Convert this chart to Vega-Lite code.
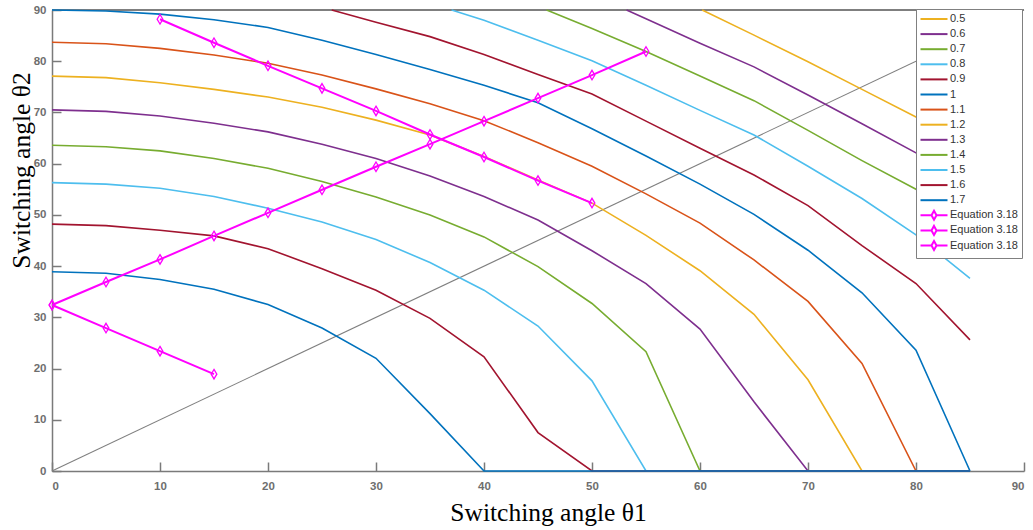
{
  "$schema": "https://vega.github.io/schema/vega-lite/v6.json",
  "width": 972,
  "height": 461,
  "autosize": {"type": "none"},
  "padding": {"left": 52, "top": 10, "right": 9, "bottom": 59},
  "background": "white",
  "config": {"view": {"stroke": null}, "font": "Liberation Sans"},
  "datasets": {
    "diag": [{"t1": 0, "t2": 0}, {"t1": 90, "t2": 90}],
    "curves": [
      {"s":"0.5","t1":60.2,"t2":90},{"s":"0.5","t1":65,"t2":85.1},{"s":"0.5","t1":70,"t2":79.9},{"s":"0.5","t1":75,"t2":74.5},{"s":"0.5","t1":80,"t2":69.1},{"s":"0.5","t1":85,"t2":63.5},
      {"s":"0.6","t1":53.2,"t2":90},{"s":"0.6","t1":55,"t2":88.3},{"s":"0.6","t1":60,"t2":83.5},{"s":"0.6","t1":65,"t2":78.9},{"s":"0.6","t1":70,"t2":73.4},{"s":"0.6","t1":75,"t2":67.8},{"s":"0.6","t1":80,"t2":62.1},{"s":"0.6","t1":85,"t2":56.0},
      {"s":"0.7","t1":45.8,"t2":90},{"s":"0.7","t1":50,"t2":86.4},{"s":"0.7","t1":55,"t2":81.9},{"s":"0.7","t1":60,"t2":77.1},{"s":"0.7","t1":65,"t2":72.3},{"s":"0.7","t1":70,"t2":66.5},{"s":"0.7","t1":75,"t2":60.6},{"s":"0.7","t1":80,"t2":55.0},{"s":"0.7","t1":85,"t2":48.5},
      {"s":"0.8","t1":37,"t2":90},{"s":"0.8","t1":40,"t2":88.0},{"s":"0.8","t1":45,"t2":84.1},{"s":"0.8","t1":50,"t2":80.1},{"s":"0.8","t1":55,"t2":75.3},{"s":"0.8","t1":60,"t2":70.4},{"s":"0.8","t1":65,"t2":65.6},{"s":"0.8","t1":70,"t2":59.5},{"s":"0.8","t1":75,"t2":53.2},{"s":"0.8","t1":80,"t2":46.1},{"s":"0.8","t1":85,"t2":37.6},
      {"s":"0.9","t1":25.9,"t2":90},{"s":"0.9","t1":30,"t2":87.6},{"s":"0.9","t1":35,"t2":84.8},{"s":"0.9","t1":40,"t2":81.3},{"s":"0.9","t1":45,"t2":77.4},{"s":"0.9","t1":50,"t2":73.6},{"s":"0.9","t1":55,"t2":68.3},{"s":"0.9","t1":60,"t2":63.0},{"s":"0.9","t1":65,"t2":57.8},{"s":"0.9","t1":70,"t2":51.8},{"s":"0.9","t1":75,"t2":44.0},{"s":"0.9","t1":80,"t2":36.6},{"s":"0.9","t1":85,"t2":25.6},
      {"s":"1","t1":0,"t2":90.0},{"s":"1","t1":5,"t2":89.8},{"s":"1","t1":10,"t2":89.2},{"s":"1","t1":15,"t2":88.1},{"s":"1","t1":20,"t2":86.6},{"s":"1","t1":25,"t2":84.1},{"s":"1","t1":30,"t2":81.3},{"s":"1","t1":35,"t2":78.4},{"s":"1","t1":40,"t2":75.3},{"s":"1","t1":45,"t2":71.9},{"s":"1","t1":50,"t2":66.8},{"s":"1","t1":55,"t2":61.5},{"s":"1","t1":60,"t2":56.0},{"s":"1","t1":65,"t2":50.1},{"s":"1","t1":70,"t2":43.1},{"s":"1","t1":75,"t2":34.8},{"s":"1","t1":80,"t2":23.6},{"s":"1","t1":85,"t2":0},
      {"s":"1.1","t1":0,"t2":83.7},{"s":"1.1","t1":5,"t2":83.4},{"s":"1.1","t1":10,"t2":82.5},{"s":"1.1","t1":15,"t2":81.2},{"s":"1.1","t1":20,"t2":79.6},{"s":"1.1","t1":25,"t2":77.3},{"s":"1.1","t1":30,"t2":74.6},{"s":"1.1","t1":35,"t2":71.7},{"s":"1.1","t1":40,"t2":68.4},{"s":"1.1","t1":45,"t2":64.1},{"s":"1.1","t1":50,"t2":59.5},{"s":"1.1","t1":55,"t2":54.1},{"s":"1.1","t1":60,"t2":48.4},{"s":"1.1","t1":65,"t2":41.2},{"s":"1.1","t1":70,"t2":33.1},{"s":"1.1","t1":75,"t2":21.0},{"s":"1.1","t1":80,"t2":0},{"s":"1.1","t1":85,"t2":0},
      {"s":"1.2","t1":0,"t2":77.1},{"s":"1.2","t1":5,"t2":76.8},{"s":"1.2","t1":10,"t2":75.8},{"s":"1.2","t1":15,"t2":74.5},{"s":"1.2","t1":20,"t2":73.0},{"s":"1.2","t1":25,"t2":71.0},{"s":"1.2","t1":30,"t2":68.5},{"s":"1.2","t1":35,"t2":65.6},{"s":"1.2","t1":40,"t2":61.4},{"s":"1.2","t1":45,"t2":56.8},{"s":"1.2","t1":50,"t2":52.3},{"s":"1.2","t1":55,"t2":46.0},{"s":"1.2","t1":60,"t2":39.1},{"s":"1.2","t1":65,"t2":30.6},{"s":"1.2","t1":70,"t2":17.8},{"s":"1.2","t1":75,"t2":0},{"s":"1.2","t1":80,"t2":0},{"s":"1.2","t1":85,"t2":0},
      {"s":"1.3","t1":0,"t2":70.5},{"s":"1.3","t1":5,"t2":70.2},{"s":"1.3","t1":10,"t2":69.3},{"s":"1.3","t1":15,"t2":67.9},{"s":"1.3","t1":20,"t2":66.2},{"s":"1.3","t1":25,"t2":63.8},{"s":"1.3","t1":30,"t2":61.0},{"s":"1.3","t1":35,"t2":57.6},{"s":"1.3","t1":40,"t2":53.6},{"s":"1.3","t1":45,"t2":49.0},{"s":"1.3","t1":50,"t2":43.0},{"s":"1.3","t1":55,"t2":36.6},{"s":"1.3","t1":60,"t2":27.7},{"s":"1.3","t1":65,"t2":13.5},{"s":"1.3","t1":70,"t2":0},{"s":"1.3","t1":75,"t2":0},{"s":"1.3","t1":80,"t2":0},{"s":"1.3","t1":85,"t2":0},
      {"s":"1.4","t1":0,"t2":63.6},{"s":"1.4","t1":5,"t2":63.3},{"s":"1.4","t1":10,"t2":62.5},{"s":"1.4","t1":15,"t2":61.0},{"s":"1.4","t1":20,"t2":59.1},{"s":"1.4","t1":25,"t2":56.5},{"s":"1.4","t1":30,"t2":53.5},{"s":"1.4","t1":35,"t2":50.0},{"s":"1.4","t1":40,"t2":45.7},{"s":"1.4","t1":45,"t2":39.9},{"s":"1.4","t1":50,"t2":32.7},{"s":"1.4","t1":55,"t2":23.3},{"s":"1.4","t1":60,"t2":0},{"s":"1.4","t1":65,"t2":0},{"s":"1.4","t1":70,"t2":0},{"s":"1.4","t1":75,"t2":0},{"s":"1.4","t1":80,"t2":0},{"s":"1.4","t1":85,"t2":0},
      {"s":"1.5","t1":0,"t2":56.3},{"s":"1.5","t1":5,"t2":56.0},{"s":"1.5","t1":10,"t2":55.2},{"s":"1.5","t1":15,"t2":53.6},{"s":"1.5","t1":20,"t2":51.3},{"s":"1.5","t1":25,"t2":48.6},{"s":"1.5","t1":30,"t2":45.2},{"s":"1.5","t1":35,"t2":40.7},{"s":"1.5","t1":40,"t2":35.3},{"s":"1.5","t1":45,"t2":28.3},{"s":"1.5","t1":50,"t2":17.6},{"s":"1.5","t1":55,"t2":0},{"s":"1.5","t1":60,"t2":0},{"s":"1.5","t1":65,"t2":0},{"s":"1.5","t1":70,"t2":0},{"s":"1.5","t1":75,"t2":0},{"s":"1.5","t1":80,"t2":0},{"s":"1.5","t1":85,"t2":0},
      {"s":"1.6","t1":0,"t2":48.2},{"s":"1.6","t1":5,"t2":47.9},{"s":"1.6","t1":10,"t2":47.0},{"s":"1.6","t1":15,"t2":45.9},{"s":"1.6","t1":20,"t2":43.4},{"s":"1.6","t1":25,"t2":39.5},{"s":"1.6","t1":30,"t2":35.3},{"s":"1.6","t1":35,"t2":29.8},{"s":"1.6","t1":40,"t2":22.3},{"s":"1.6","t1":45,"t2":7.5},{"s":"1.6","t1":50,"t2":0},{"s":"1.6","t1":55,"t2":0},{"s":"1.6","t1":60,"t2":0},{"s":"1.6","t1":65,"t2":0},{"s":"1.6","t1":70,"t2":0},{"s":"1.6","t1":75,"t2":0},{"s":"1.6","t1":80,"t2":0},{"s":"1.6","t1":85,"t2":0},
      {"s":"1.7","t1":0,"t2":38.9},{"s":"1.7","t1":5,"t2":38.6},{"s":"1.7","t1":10,"t2":37.4},{"s":"1.7","t1":15,"t2":35.5},{"s":"1.7","t1":20,"t2":32.5},{"s":"1.7","t1":25,"t2":27.9},{"s":"1.7","t1":30,"t2":22.0},{"s":"1.7","t1":35,"t2":11.2},{"s":"1.7","t1":40,"t2":0},{"s":"1.7","t1":45,"t2":0},{"s":"1.7","t1":50,"t2":0},{"s":"1.7","t1":55,"t2":0},{"s":"1.7","t1":60,"t2":0},{"s":"1.7","t1":65,"t2":0},{"s":"1.7","t1":70,"t2":0},{"s":"1.7","t1":75,"t2":0},{"s":"1.7","t1":80,"t2":0},{"s":"1.7","t1":85,"t2":0}
    ],
    "eq": [
      {"s":"Eq1","t1":0,"t2":32.4},{"s":"Eq1","t1":5,"t2":36.9},{"s":"Eq1","t1":10,"t2":41.3},{"s":"Eq1","t1":15,"t2":45.9},{"s":"Eq1","t1":20,"t2":50.4},{"s":"Eq1","t1":25,"t2":54.9},{"s":"Eq1","t1":30,"t2":59.4},{"s":"Eq1","t1":35,"t2":63.8},{"s":"Eq1","t1":40,"t2":68.3},{"s":"Eq1","t1":45,"t2":72.8},{"s":"Eq1","t1":50,"t2":77.3},{"s":"Eq1","t1":55,"t2":81.9},
      {"s":"Eq2","t1":0,"t2":32.4},{"s":"Eq2","t1":5,"t2":27.9},{"s":"Eq2","t1":10,"t2":23.4},{"s":"Eq2","t1":15,"t2":18.9},
      {"s":"Eq3","t1":10,"t2":88.2},{"s":"Eq3","t1":15,"t2":83.6},{"s":"Eq3","t1":20,"t2":79.1},{"s":"Eq3","t1":25,"t2":74.7},{"s":"Eq3","t1":30,"t2":70.3},{"s":"Eq3","t1":35,"t2":65.7},{"s":"Eq3","t1":40,"t2":61.3},{"s":"Eq3","t1":45,"t2":56.7},{"s":"Eq3","t1":50,"t2":52.3}
    ]
  },
  "layer": [
    {
      "data": {"name": "diag"},
      "mark": {"type": "line", "color": "#7f7f7f", "strokeWidth": 1.1},
      "encoding": {
        "x": {"field": "t1", "type": "quantitative",
          "scale": {"domain": [0, 90], "nice": false, "zero": false},
          "axis": {"title": "Switching angle θ1", "values": [0,10,20,30,40,50,60,70,80,90],
            "grid": false, "domainColor": "#7a7a7a", "domainWidth": 1.5,
            "tickColor": "#7a7a7a", "tickWidth": 1.5, "tickSize": -9,
            "labelPadding": 18, "labelFont": "Liberation Sans", "labelFontSize": 11.5, "labelFontWeight": "bold", "labelColor": "#6e6e6e",
            "titleFont": "Liberation Serif", "titleFontSize": 25.5, "titleFontWeight": "normal", "titleColor": "#000000",
            "titleX": 496, "titleY": 49, "titleAlign": "center", "titleBaseline": "alphabetic"}},
        "y": {"field": "t2", "type": "quantitative",
          "scale": {"domain": [0, 90], "nice": false, "zero": false},
          "axis": {"title": "Switching angle θ2", "values": [0,10,20,30,40,50,60,70,80,90],
            "grid": false, "domainColor": "#7a7a7a", "domainWidth": 1.5,
            "tickColor": "#7a7a7a", "tickWidth": 1.5, "tickSize": -9,
            "labelPadding": 15, "labelFont": "Liberation Sans", "labelFontSize": 11.5, "labelFontWeight": "bold", "labelColor": "#6e6e6e",
            "titleFont": "Liberation Serif", "titleFontSize": 25.5, "titleFontWeight": "normal", "titleColor": "#000000",
            "titleAngle": -90, "titleX": -31, "titleY": 160, "titleAlign": "center", "titleBaseline": "middle"}}
      }
    },
    {
      "data": {"values": [{}]},
      "mark": {"type": "rule", "color": "#7f7f7f", "strokeWidth": 2},
      "encoding": {"x": {"datum": 0}, "x2": {"datum": 90}, "y": {"datum": 90}}
    },
    {
      "data": {"name": "curves"},
      "mark": {"type": "line", "strokeWidth": 1.6},
      "encoding": {
        "x": {"field": "t1", "type": "quantitative"},
        "y": {"field": "t2", "type": "quantitative"},
        "color": {"field": "s", "type": "nominal",
          "scale": {"domain": ["0.5","0.6","0.7","0.8","0.9","1","1.1","1.2","1.3","1.4","1.5","1.6","1.7","Eq1","Eq2","Eq3"],
            "range": ["#EDB120","#7E2F8E","#77AC30","#4DBEEE","#A2142F","#0072BD","#D95319","#EDB120","#7E2F8E","#77AC30","#4DBEEE","#A2142F","#0072BD","#FF00FF","#FF00FF","#FF00FF"]},
          "legend": {"title": null, "orient": "none", "legendX": 864, "legendY": -1,
            "fillColor": "white", "strokeColor": "#808080", "padding": 4, "rowPadding": -2.9,
            "symbolSize": 100, "symbolStrokeWidth": 2, "symbolOffset": 8, "labelOffset": 10,
            "labelFont": "Liberation Sans", "labelFontSize": 11, "labelColor": "#333333",
            "labelExpr": "indexof(datum.label, 'Eq') == 0 ? 'Equation 3.18' : datum.label"}},
        "order": {"field": "t1", "type": "quantitative"}
      }
    },
    {
      "data": {"name": "eq"},
      "mark": {"type": "line", "strokeWidth": 2},
      "encoding": {
        "x": {"field": "t1", "type": "quantitative"},
        "y": {"field": "t2", "type": "quantitative"},
        "color": {"field": "s", "type": "nominal"}
      }
    },
    {
      "data": {"name": "eq"},
      "mark": {"type": "point", "shape": "M0,-1L0.6,0L0,1L-0.6,0Z", "size": 90, "filled": false, "color": "#FF00FF", "strokeWidth": 1.3, "opacity": 1},
      "encoding": {
        "x": {"field": "t1", "type": "quantitative"},
        "y": {"field": "t2", "type": "quantitative"}
      }
    },
    {
      "data": {"values": []},
      "mark": {"type": "point", "filled": false, "opacity": 1},
      "encoding": {
        "color": {"field": "s", "type": "nominal"},
        "shape": {"field": "s", "type": "nominal",
          "scale": {"domain": ["0.5","0.6","0.7","0.8","0.9","1","1.1","1.2","1.3","1.4","1.5","1.6","1.7","Eq1","Eq2","Eq3"],
            "range": ["M-2.7,0H2.7M0,-0.9L0,-0.9M0,0.9L0,0.9","M-2.7,0H2.7M0,-0.9L0,-0.9M0,0.9L0,0.9","M-2.7,0H2.7M0,-0.9L0,-0.9M0,0.9L0,0.9","M-2.7,0H2.7M0,-0.9L0,-0.9M0,0.9L0,0.9","M-2.7,0H2.7M0,-0.9L0,-0.9M0,0.9L0,0.9","M-2.7,0H2.7M0,-0.9L0,-0.9M0,0.9L0,0.9","M-2.7,0H2.7M0,-0.9L0,-0.9M0,0.9L0,0.9","M-2.7,0H2.7M0,-0.9L0,-0.9M0,0.9L0,0.9","M-2.7,0H2.7M0,-0.9L0,-0.9M0,0.9L0,0.9","M-2.7,0H2.7M0,-0.9L0,-0.9M0,0.9L0,0.9","M-2.7,0H2.7M0,-0.9L0,-0.9M0,0.9L0,0.9","M-2.7,0H2.7M0,-0.9L0,-0.9M0,0.9L0,0.9","M-2.7,0H2.7M0,-0.9L0,-0.9M0,0.9L0,0.9",
              "M-2.7,0H-0.5M0.5,0H2.7M0,-0.9L0.5,0L0,0.9L-0.5,0Z","M-2.7,0H-0.5M0.5,0H2.7M0,-0.9L0.5,0L0,0.9L-0.5,0Z","M-2.7,0H-0.5M0.5,0H2.7M0,-0.9L0.5,0L0,0.9L-0.5,0Z"]},
          "legend": {"title": null, "orient": "none", "legendX": 864, "legendY": -1,
            "fillColor": "white", "strokeColor": "#808080", "padding": 4, "rowPadding": -2.9,
            "symbolSize": 100, "symbolStrokeWidth": 2, "symbolOffset": 8, "labelOffset": 10,
            "labelFont": "Liberation Sans", "labelFontSize": 11, "labelColor": "#333333",
            "labelExpr": "indexof(datum.label, 'Eq') == 0 ? 'Equation 3.18' : datum.label"}}
      }
    }
  ]
}
